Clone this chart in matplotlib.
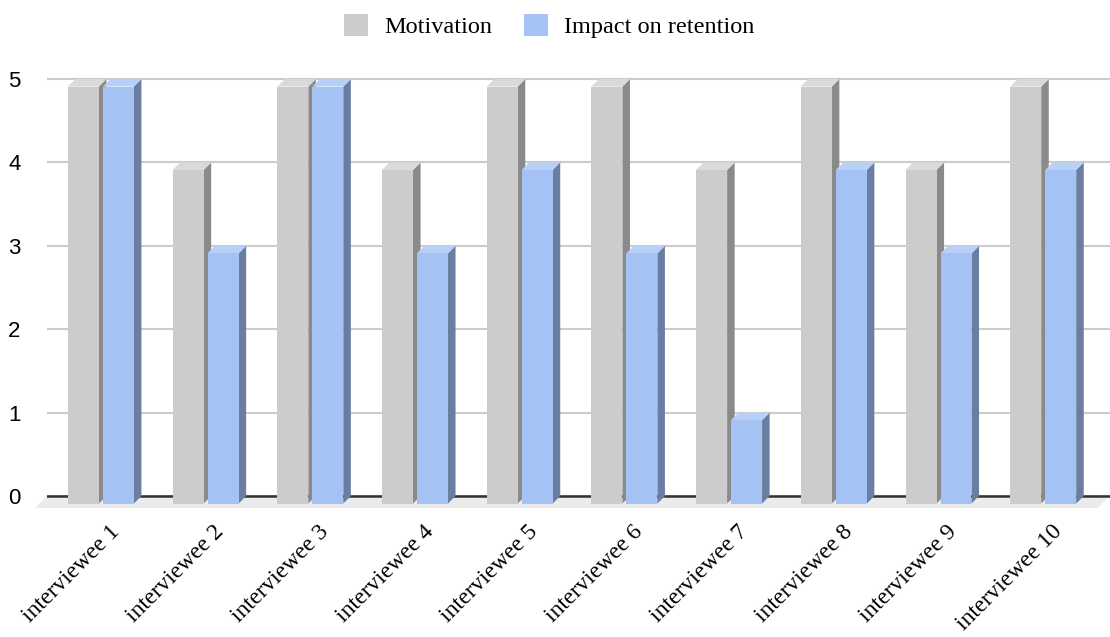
import numpy as np
import matplotlib
matplotlib.use('Agg')
import matplotlib.pyplot as plt
from matplotlib.patches import Polygon, Patch

# interview scores
labels = ['interviewee 1', 'interviewee 2', 'interviewee 3', 'interviewee 4', 'interviewee 5',
          'interviewee 6', 'interviewee 7', 'interviewee 8', 'interviewee 9', 'interviewee 10']
motivation = [5, 4, 5, 4, 5, 5, 4, 5, 4, 5]
retention = [5, 3, 5, 3, 4, 3, 1, 4, 3, 4]

# colours: front face, side face, top face
gray = ('#cccccc', '#8a8a8a', '#dadada')
blue = ('#a4c2f4', '#6a7ea1', '#b8d0f7')

# fake 3d depth in data units
dx, dy = 0.072, 0.09
bw = 0.296

fig = plt.figure(figsize=(11.1, 6.37), dpi=100)
ax = fig.add_axes([47/1110, 0.2017, 1062.7/1110, 0.6873])
ax.set_xlim(-0.51, 9.64)
ax.set_ylim(-0.15, 5.1)

x = np.arange(len(labels))

# floor
floor = Polygon([(-0.51, 0), (9.64, 0), (9.64 - 0.115, -0.144), (-0.51 - 0.115, -0.144)],
                closed=True, facecolor='#ebebeb', edgecolor='none', zorder=0, clip_on=False)
ax.add_patch(floor)

ax.set_yticks([0, 1, 2, 3, 4, 5])
ax.yaxis.grid(True, color='#cccccc', linewidth=1.5, zorder=1)
ax.set_axisbelow(True)
ax.axhline(0, color='#333333', linewidth=1.8, zorder=1.5)


def bar3d(x0, v, cols, z):
    x1 = x0 + bw
    ax.bar(x0, v, width=bw, bottom=-dy, align='edge', color=cols[0], linewidth=0, zorder=z)
    side = Polygon([(x1, -dy), (x1, v - dy), (x1 + dx, v), (x1 + dx, 0)],
                   closed=True, facecolor=cols[1], edgecolor='none', zorder=z - 0.1)
    top = Polygon([(x0, v - dy), (x1, v - dy), (x1 + dx, v), (x0 + dx, v)],
                  closed=True, facecolor=cols[2], edgecolor='none', zorder=z - 0.1)
    ax.add_patch(side)
    ax.add_patch(top)


for i in range(len(labels)):
    bar3d(x[i] - 0.31, motivation[i], gray, 3)
    bar3d(x[i] + 0.024, retention[i], blue, 4)

for s in ax.spines.values():
    s.set_visible(False)

ax.set_xticks(x + 0.08)
ax.set_xticklabels(labels, rotation=45, ha='right', va='top', rotation_mode='anchor',
                   family='Liberation Serif', fontsize=17)
ax.tick_params(axis='x', length=0, pad=9)
ax.tick_params(axis='y', length=0, pad=19, labelsize=16)
for t in ax.get_yticklabels():
    t.set_family('Liberation Sans')

handles = [Patch(facecolor=gray[0], edgecolor='none'), Patch(facecolor=blue[0], edgecolor='none')]
fig.legend(handles, ['Motivation', 'Impact on retention'], loc='center', bbox_to_anchor=(0.495, 0.959),
           ncol=2, frameon=False, handlelength=1.0, handleheight=1.0, handletextpad=0.66,
           columnspacing=1.3, prop={'family': 'Liberation Serif', 'size': 17.5})

fig.savefig('out.png', dpi=100)
